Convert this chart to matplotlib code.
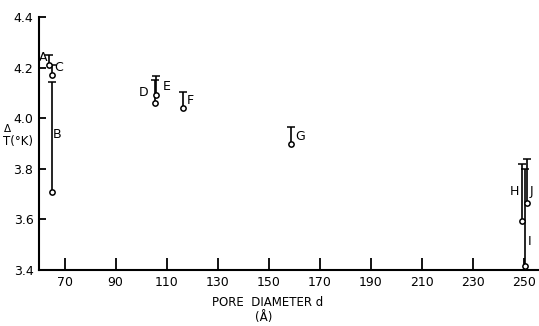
import matplotlib.pyplot as plt
import numpy as np

# sample labels, pore diameter (A), measured dT and top of the error bar
labels = ['A', 'B', 'C', 'D', 'E', 'F', 'G', 'H', 'I', 'J']
diam = [64, 65, 65, 105.5, 106, 116.4, 158.7, 249.4, 250.4, 251.4]
delta_t = [4.21, 3.71, 4.17, 4.06, 4.09, 4.04, 3.90, 3.595, 3.415, 3.665]
upper = [4.25, 4.145, 4.21, 4.15, 4.165, 4.105, 3.965, 3.82, 3.80, 3.84]

xticks = [70, 90, 110, 130, 150, 170, 190, 210, 230, 250]
yticks = [3.4, 3.6, 3.8, 4.0, 4.2, 4.4]

# label offsets in points from each marker
label_off = {'A': (-4.3, 5.8), 'B': (3.8, 41.4), 'C': (4.9, 5.8),
             'D': (-8.6, 7.9), 'E': (7.2, 6.5), 'F': (5.0, 5.8),
             'G': (6.5, 5.0), 'H': (-5.5, 20.9), 'I': (3.4, 17.5),
             'J': (3.1, 7.9)}

fig = plt.figure(figsize=(5.39, 3.26), dpi=100)
ax = fig.add_axes([39 / 539, 56 / 326, 1 - 39 / 539, 253 / 326])

d = np.array(diam)
t = np.array(delta_t)
up = np.array(upper) - t
eb = ax.errorbar(d, t, yerr=[np.zeros_like(up), up], fmt='o', ms=3.8,
                 mfc='white', mec='black', mew=1.1, ecolor='black',
                 elinewidth=1.2, capsize=2.6, capthick=1.5, zorder=3)
eb[1][0].set_visible(False)  # only keep the top caps

for lab, x, y in zip(labels, diam, delta_t):
    ax.annotate(lab, (x, y), xytext=label_off[lab], textcoords='offset points',
                ha='center', va='center', fontsize=9)

ax.set_xlim(60, 256)
ax.set_ylim(3.4, 4.4)
ax.set_xticks(xticks)
ax.set_yticks(yticks)
ax.set_yticklabels([f'{v:.1f}' for v in yticks])
ax.tick_params(axis='x', direction='in', length=8.5, width=1.3, labelsize=9, pad=4)
ax.tick_params(axis='y', direction='in', length=5, width=1.3, labelsize=9, pad=4)
for s in ['top', 'right']:
    ax.spines[s].set_visible(False)
for s in ['left', 'bottom']:
    ax.spines[s].set_linewidth(1.5)
    ax.spines[s].set_clip_on(False)

fig.text(7.5 / 539, 1 - 129 / 326, 'Δ', fontsize=7.5, ha='center', va='center')
fig.text(3 / 539, 1 - 142 / 326, 'T(°K)', fontsize=8.5, ha='left', va='center')
fig.text(268 / 539, 1 - 303 / 326, 'PORE  DIAMETER d', fontsize=8.5, ha='center', va='center')
fig.text(264 / 539, 1 - 318 / 326, '(Å)', fontsize=8.5, ha='center', va='center')

fig.savefig('out.png', dpi=100)
